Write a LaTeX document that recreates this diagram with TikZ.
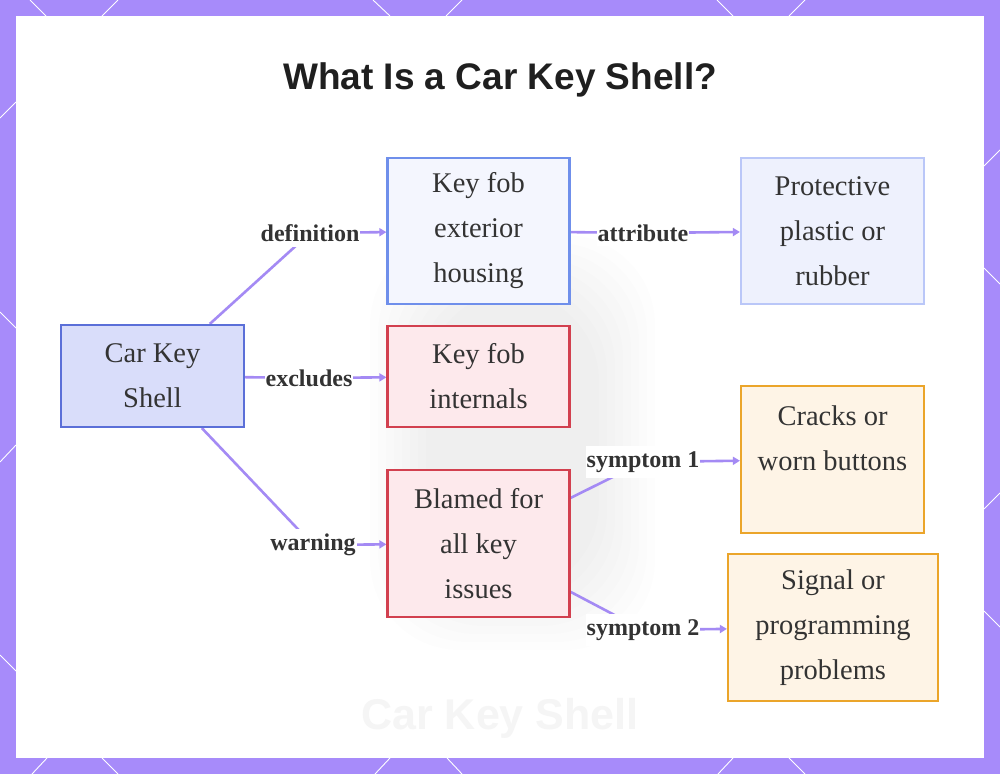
\documentclass[tikz,border=0pt]{standalone}
\usepackage{fontspec}
\setmainfont{Liberation Serif}
\newfontfamily\headfont{Liberation Sans}
\usetikzlibrary{arrows.meta,positioning}
\definecolor{frameviolet}{HTML}{A78BFA}
\definecolor{linkviolet}{HTML}{A48AF4}
\definecolor{inkgray}{HTML}{333333}
\definecolor{shellfill}{HTML}{D9DDFA}
\definecolor{shelledge}{HTML}{5B6FD8}
\definecolor{housefill}{HTML}{F4F6FE}
\definecolor{houseedge}{HTML}{6F8FEB}
\definecolor{plasticfill}{HTML}{EEF1FD}
\definecolor{plasticedge}{HTML}{BAC7F8}
\definecolor{warnfill}{HTML}{FDE9EC}
\definecolor{warnedge}{HTML}{D2404F}
\definecolor{symfill}{HTML}{FEF4E6}
\definecolor{symedge}{HTML}{EBA52A}
\pgfdeclarelayer{back}
\pgfdeclarelayer{links}
\pgfsetlayers{back,links,main}

\begin{document}
\begin{tikzpicture}[x=1pt, y=-1pt,
  box/.style={draw, line width=2.2pt, align=center, inner sep=0pt, text=inkgray,
    font=\fontsize{28.5}{45}\selectfont},
  tag/.style={fill=white, inner xsep=1pt, inner ysep=5pt, text=inkgray,
    font=\fontsize{24}{28}\selectfont\bfseries},
  link/.style={draw=linkviolet, line width=2.6pt, -{Triangle[length=7pt,width=8pt]}},
  faint/.style={text=black!4, font=\headfont\bfseries}
]
\useasboundingbox (0,0) rectangle (1000,774);

% frame and backdrop
\begin{pgfonlayer}{back}
\fill[frameviolet] (0,0) rectangle (1000,774);
\foreach \xa/\ya/\xb/\yb in {30/0/46/16, 118/0/102/16, 373/0/390/16, 462/0/446/16,
    717/0/733/16, 805/0/789/16, 32/774/47/758, 118/774/102/758, 375/774/390/758,
    462/774/447/758, 718/774/733/758, 805/774/789/758, 16/102/0/118, 0/312/16/328,
    16/445/0/462, 0/655/16/671, 1000/150/984/166, 984/268/1000/284,
    1000/493/984/509, 984/611/1000/627}
  \draw[white, line width=0.9pt] (\xa,\ya) -- (\xb,\yb);
\fill[white] (16,16) rectangle (984,758);
\foreach \i in {0,...,7}
  \fill[black, opacity=0.009, rounded corners=90pt] (370+8*\i,235+8*\i) rectangle (655-8*\i,650-8*\i);
\node[faint, font=\headfont\bfseries\fontsize{43}{48}\selectfont] (wm) at (500,718) {Car Key Shell};
\end{pgfonlayer}

\node[text=black!88, font=\headfont\bfseries\fontsize{37}{44}\selectfont] (title) at (500,80) {What Is a Car Key Shell?};

\node[box, fill=shellfill, draw=shelledge, minimum width=183pt, minimum height=102pt] (shell) at (152.5,376) {Car Key\\Shell};
\node[box, fill=housefill, draw=houseedge, minimum width=182pt, minimum height=146pt] (housing) at (478.5,231) {Key fob\\exterior\\housing};
\node[box, fill=plasticfill, draw=plasticedge, minimum width=183pt, minimum height=146pt] (plastic) at (832.5,231) {Protective\\plastic or\\rubber};
\node[box, fill=warnfill, draw=warnedge, minimum width=182pt, minimum height=101pt] (internals) at (478.5,376.5) {Key fob\\internals};
\node[box, fill=warnfill, draw=warnedge, minimum width=182pt, minimum height=147pt] (blamed) at (478.5,543.5) {Blamed for\\all key\\issues};
\node[box, fill=symfill, draw=symedge, minimum width=183pt, minimum height=147pt] (cracks) at (832.5,459.5) {Cracks or\\worn buttons\\[-16pt]\strut};
\node[box, fill=symfill, draw=symedge, minimum width=210pt, minimum height=147pt] (signal) at (833,627.5) {Signal or\\programming\\problems};

\node[tag] (lDef) at (310,233) {definition};
\node[tag] (lExc) at (309,378) {excludes};
\node[tag] (lWarn) at (313,545) {warning};
\node[tag] (lAttr) at (643,233) {attribute};
\node[tag] (lSymA) at (643,462) {symptom 1};
\node[tag] (lSymB) at (643,630) {symptom 2};

\begin{pgfonlayer}{links}
\draw[link] (shell) -- (lDef.center) -- (housing);
\draw[link] (shell) -- (lExc.center) -- (internals);
\draw[link] (shell) -- (lWarn.center) -- (blamed);
\draw[link] (housing) -- (lAttr.center) -- (plastic);
\draw[link] (blamed) -- (lSymA.center) -- (cracks);
\draw[link] (blamed) -- (lSymB.center) -- (signal);
\end{pgfonlayer}
\end{tikzpicture}
\end{document}
